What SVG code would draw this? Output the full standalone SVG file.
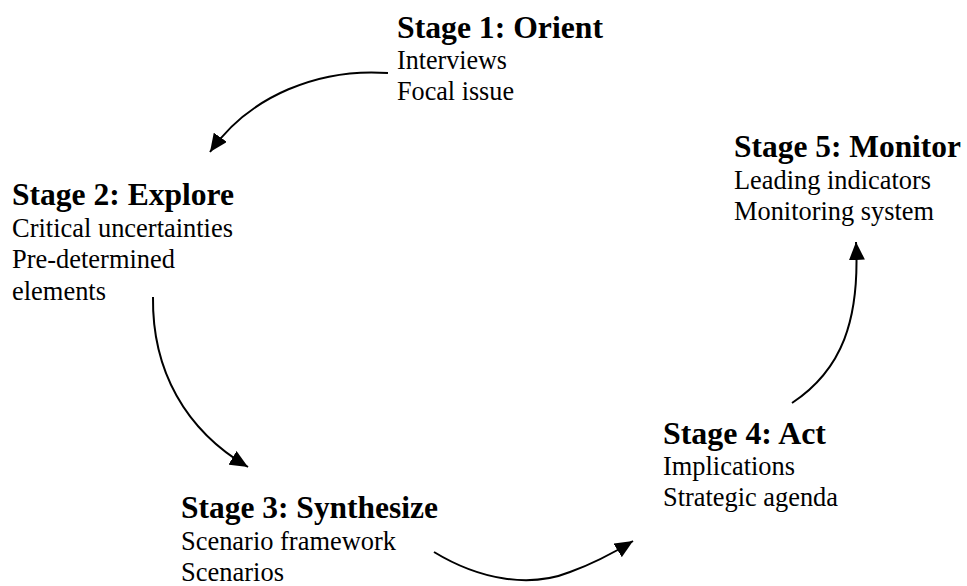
<svg xmlns="http://www.w3.org/2000/svg" width="967" height="586" viewBox="0 0 967 586">
<style>
text{font-family:'Liberation Serif',Tinos,'Times New Roman',Times,'DejaVu Serif',serif;fill:#000}
.t{font-weight:bold;font-size:31.5px}
.b{font-size:26.4px}
.c{fill:none;stroke:#000;stroke-width:2}
</style>
<defs>
<marker id="ah" markerUnits="userSpaceOnUse" markerWidth="20" markerHeight="16" refX="18" refY="8" orient="auto">
<path d="M0,0 L18,8 L0,16 Z" fill="#000"/>
</marker>
</defs>
<rect width="967" height="586" fill="#fff"/>
<g id="connectors">
<path class="c" d="M 388 73 C 320 68 250 95 210 152" marker-end="url(#ah)"/>
<path class="c" d="M 153 297 C 152 370 185 430 248 467" marker-end="url(#ah)"/>
<path class="c" d="M 434 552 C 480 580 530 588 570 572 C 595 563 615 552 633 541" marker-end="url(#ah)"/>
<path class="c" d="M 792 403 C 842 370 860 320 856 242" marker-end="url(#ah)"/>
</g>
<g id="stage1">
<text class="t" x="397" y="38" textLength="206" lengthAdjust="spacingAndGlyphs">Stage 1: Orient</text>
<text class="b" x="397" y="69" textLength="110" lengthAdjust="spacingAndGlyphs">Interviews</text>
<text class="b" x="397" y="100" textLength="117" lengthAdjust="spacingAndGlyphs">Focal issue</text>
</g>
<g id="stage2">
<text class="t" x="12" y="205" textLength="222" lengthAdjust="spacingAndGlyphs">Stage 2: Explore</text>
<text class="b" x="12" y="237" textLength="221" lengthAdjust="spacingAndGlyphs">Critical uncertainties</text>
<text class="b" x="12" y="268" textLength="163" lengthAdjust="spacingAndGlyphs">Pre-determined</text>
<text class="b" x="12" y="300" textLength="94" lengthAdjust="spacingAndGlyphs">elements</text>
</g>
<g id="stage3">
<text class="t" x="181" y="518" textLength="257" lengthAdjust="spacingAndGlyphs">Stage 3: Synthesize</text>
<text class="b" x="181" y="550" textLength="215" lengthAdjust="spacingAndGlyphs">Scenario framework</text>
<text class="b" x="181" y="581" textLength="103" lengthAdjust="spacingAndGlyphs">Scenarios</text>
</g>
<g id="stage4">
<text class="t" x="663" y="444" textLength="163" lengthAdjust="spacingAndGlyphs">Stage 4: Act</text>
<text class="b" x="663" y="475" textLength="132" lengthAdjust="spacingAndGlyphs">Implications</text>
<text class="b" x="663" y="506" textLength="175" lengthAdjust="spacingAndGlyphs">Strategic agenda</text>
</g>
<g id="stage5">
<text class="t" x="734" y="157" textLength="227" lengthAdjust="spacingAndGlyphs">Stage 5: Monitor</text>
<text class="b" x="734" y="189" textLength="197" lengthAdjust="spacingAndGlyphs">Leading indicators</text>
<text class="b" x="734" y="220" textLength="200" lengthAdjust="spacingAndGlyphs">Monitoring system</text>
</g>
</svg>
